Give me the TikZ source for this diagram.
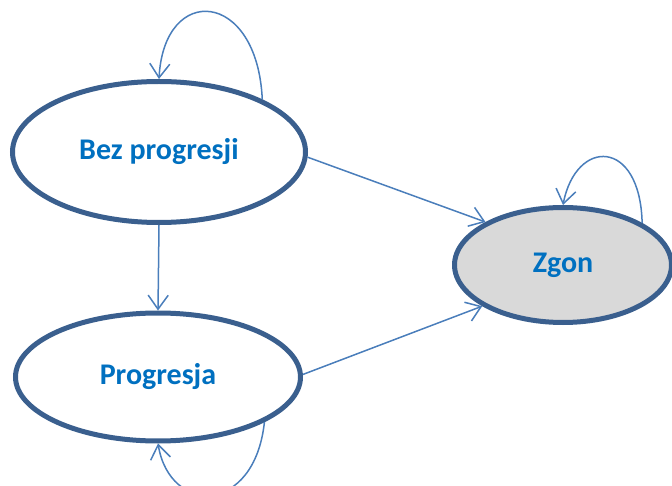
\documentclass[tikz,border=0pt]{standalone}
\usepackage{fontspec}
\setmainfont{Carlito}
\usetikzlibrary{shapes.geometric,arrows.meta}
\definecolor{edgeblue}{HTML}{3A5F8E}
\definecolor{linkblue}{HTML}{4A7EBB}
\definecolor{txtblue}{HTML}{0070C0}
\definecolor{fillgray}{HTML}{D9D9D9}
\tikzset{
  state/.style={ellipse, draw=edgeblue, line width=5pt, fill=white, inner sep=0pt,
    font=\fontsize{30}{34}\selectfont\bfseries, text=txtblue},
  link/.style={draw=linkblue, line width=1.5pt,
    -{Straight Barb[length=14pt,width=20pt,line width=1.5pt]}},
}
\begin{document}
\begin{tikzpicture}[x=1pt,y=-1pt]
\useasboundingbox (0,0) rectangle (672,486);
\clip (0,0) rectangle (672,486);
\node[state, minimum width=293pt, minimum height=141pt] (bez) at (159,152) {Bez progresji};
\node[state, minimum width=285pt, minimum height=128pt] (prog) at (158,377) {Progresja};
\node[state, fill=fillgray, minimum width=217pt, minimum height=115pt] (zgon) at (563,265) {Zgon};
\draw[link] (bez.-2) -- (zgon.151.7);
\draw[link] (prog.1) -- (zgon.207);
\draw[link] (bez.south) -- (prog.north);
\draw[link] (bez.27.4) .. controls +(-5,-110) and +(5,-96) .. (bez.north);
\draw[link] (zgon.28) .. controls +(-2,-85) and +(13,-67) .. (zgon.north);
\draw[link] (prog.-23.8) .. controls +(-10,93) and +(12,72) .. (prog.south);
\end{tikzpicture}
\end{document}
